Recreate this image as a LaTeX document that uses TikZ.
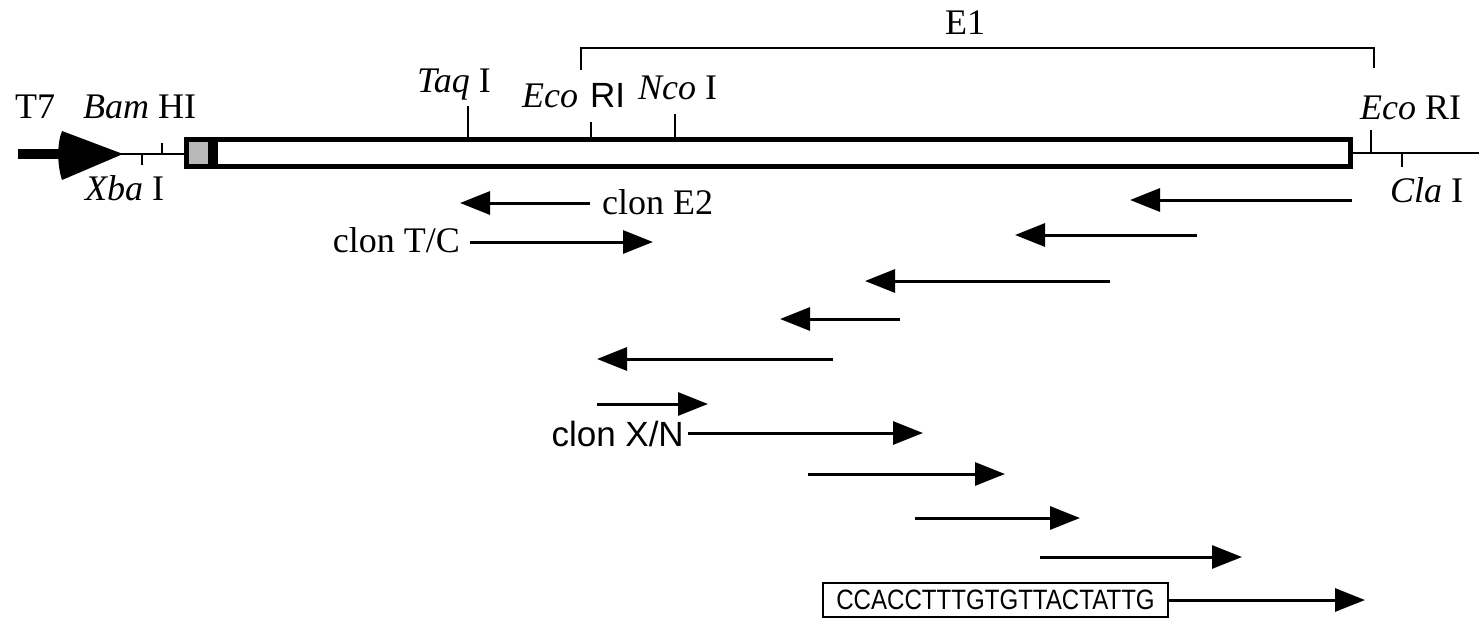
\documentclass[tikz,border=0pt]{standalone}
\usepackage{fontspec}
\setmainfont{Liberation Serif}
\setsansfont{Liberation Sans}
\usetikzlibrary{arrows.meta}
\begin{document}
\begin{tikzpicture}[x=1pt,y=-1pt,
  lbl/.style={inner sep=0pt, anchor=base west, font=\fontsize{36}{40}\selectfont},
  sanslbl/.style={inner sep=0pt, anchor=base west, font=\sffamily\fontsize{35}{40}\selectfont},
  seqarrow/.style={line width=3pt, -{Triangle[length=30pt,width=23pt]}},
  sitetick/.style={line width=2.5pt},
  thinline/.style={line width=2pt},
]
\useasboundingbox (0,0) rectangle (1479,623);

% promoter arrow T7
\coordinate (t7s) at (18,154);
\coordinate (t7h) at (64,154);
\draw[line width=10pt] (t7s) -- (t7h);
\fill (62,131) -- (123,154) -- (62,180) .. controls (57,165) and (57,143) .. cycle;

% left thin line with ticks
\coordinate (ll0) at (120,154);
\coordinate (ll1) at (186,154);
\draw[thinline] (ll0) -- (ll1);
\coordinate (xbaT) at (142,154); \coordinate (xbaB) at (142,165);
\draw[sitetick] (xbaT) -- (xbaB);
\coordinate (bamT) at (162,143); \coordinate (bamB) at (162,154);
\draw[sitetick] (bamT) -- (bamB);

% main box
\fill[gray!55] (186,139.5) rectangle (210,166.5);
\fill (208,139.5) rectangle (218,166.5);
\draw[line width=5pt] (186.5,139.5) rectangle (1350.5,166.5);

% right thin line
\coordinate (rl0) at (1353,153);
\coordinate (rl1) at (1479,153);
\draw[thinline] (rl0) -- (rl1);
\coordinate (eco2T) at (1371,130); \coordinate (eco2B) at (1371,153);
\draw[sitetick] (eco2T) -- (eco2B);
\coordinate (claT) at (1402,153); \coordinate (claB) at (1402,167);
\draw[sitetick] (claT) -- (claB);

% ticks on box
\coordinate (taqT) at (468,106); \coordinate (taqB) at (468,137);
\draw[sitetick] (taqT) -- (taqB);
\coordinate (eco1T) at (591,122); \coordinate (eco1B) at (591,137);
\draw[sitetick] (eco1T) -- (eco1B);
\coordinate (ncoT) at (675,114); \coordinate (ncoB) at (675,137);
\draw[sitetick] (ncoT) -- (ncoB);

% E1 bracket
\coordinate (e1a) at (581,70); \coordinate (e1b) at (581,48);
\coordinate (e1c) at (1374,48); \coordinate (e1d) at (1374,68);
\draw[line width=2.5pt] (e1a) -- (e1b) -- (e1c) -- (e1d);

% labels
\node[lbl] (t7) at (15,118) {T7};
\node[lbl] (bam) at (83,118) {\textit{Bam} HI};
\node[lbl] (xba) at (85,200) {\textit{Xba} I};
\node[lbl] (taq) at (417,93) {\textit{Taq} I};
\node[lbl] (eco1) at (522,108) {\textit{Eco}};
\node[sanslbl] (ri1) at (590,108) {RI};
\node[lbl] (nco) at (638,100) {\textit{Nco} I};
\node[lbl, anchor=base] (e1) at (965,35) {E1};
\node[lbl] (eco2) at (1360,120) {\textit{Eco} RI};
\node[lbl] (cla) at (1390,202) {\textit{Cla} I};

% clone arrows
\node[lbl] (e2) at (602,214) {clon E2};
\coordinate (e2s) at (590,203); \coordinate (e2e) at (460,203);
\draw[seqarrow] (e2s) -- (e2e);

\node[lbl, anchor=base east] (tc) at (460,252) {clon T/C};
\coordinate (tcs) at (470,242); \coordinate (tce) at (653,242);
\draw[seqarrow] (tcs) -- (tce);

\coordinate (r1s) at (1352,200); \coordinate (r1e) at (1130,200);
\draw[seqarrow] (r1s) -- (r1e);
\coordinate (r2s) at (1197,235); \coordinate (r2e) at (1015,235);
\draw[seqarrow] (r2s) -- (r2e);
\coordinate (r3s) at (1110,281); \coordinate (r3e) at (865,281);
\draw[seqarrow] (r3s) -- (r3e);
\coordinate (r4s) at (900,319); \coordinate (r4e) at (780,319);
\draw[seqarrow] (r4s) -- (r4e);
\coordinate (r5s) at (833,359); \coordinate (r5e) at (597,359);
\draw[seqarrow] (r5s) -- (r5e);

\coordinate (r6s) at (597,404); \coordinate (r6e) at (708,404);
\draw[seqarrow] (r6s) -- (r6e);

\node[sanslbl, anchor=base east] (xn) at (684,446) {clon X/N};
\coordinate (xns) at (688,433); \coordinate (xne) at (923,433);
\draw[seqarrow] (xns) -- (xne);

\coordinate (r8s) at (808,474); \coordinate (r8e) at (1005,474);
\draw[seqarrow] (r8s) -- (r8e);
\coordinate (r9s) at (915,518); \coordinate (r9e) at (1080,518);
\draw[seqarrow] (r9s) -- (r9e);
\coordinate (r10s) at (1040,557); \coordinate (r10e) at (1242,557);
\draw[seqarrow] (r10s) -- (r10e);

\node[draw, line width=2.5pt, minimum width=345pt, minimum height=34pt, inner sep=0pt,
      font=\sffamily\fontsize{28}{30}\selectfont] (seqbox) at (995.5,600)
      {\scalebox{0.86}[1]{CCACCTTTGTGTTACTATTG}};
\coordinate (r11e) at (1365,600);
\draw[seqarrow] (seqbox.east) -- (r11e);
\end{tikzpicture}
\end{document}
